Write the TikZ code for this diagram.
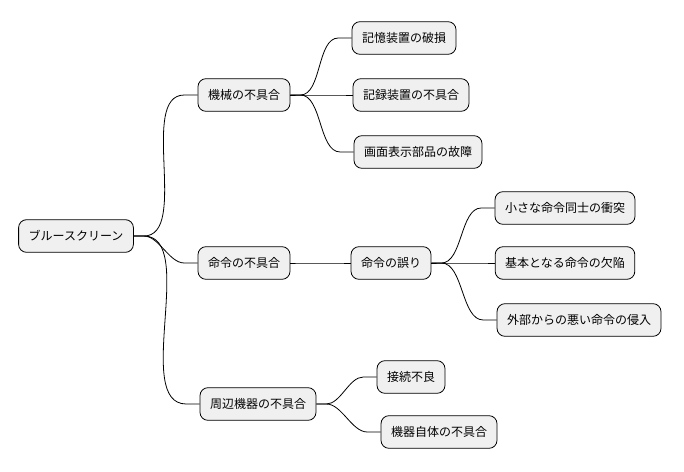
\documentclass[tikz,border=0pt]{standalone}
\usepackage{fontspec}
\setmainfont{Noto Sans CJK JP}
\usetikzlibrary{positioning}

\begin{document}
\begin{tikzpicture}[
    x=0.75pt, y=-0.75pt,
    topic/.style={rectangle, draw, fill=gray!12, rounded corners=6pt, minimum height=24.5pt, inner xsep=7.5pt, font=\fontsize{9pt}{11pt}\selectfont, line width=0.6pt},
    link/.style={line width=0.6pt}
]
\useasboundingbox (0,0) rectangle (684,471);

% root
\node[topic] (root) at (76,236) {ブルースクリーン};

% first level
\node[topic] (machine) at (244,95) {機械の不具合};
\node[topic] (order) at (244,263) {命令の不具合};
\node[topic] (device) at (258,404) {周辺機器の不具合};

% machine branch
\node[topic] (memory) at (404,38) {記憶装置の破損};
\node[topic] (record) at (411,95) {記録装置の不具合};
\node[topic] (screen) at (418,152) {画面表示部品の故障};

% order branch
\node[topic] (mistake) at (391,263) {命令の誤り};
\node[topic] (clash) at (565,208) {小さな命令同士の衝突};
\node[topic] (defect) at (565,263) {基本となる命令の欠陥};
\node[topic] (intrude) at (579,320) {外部からの悪い命令の侵入};

% device branch
\node[topic] (connect) at (411,377) {接続不良};
\node[topic] (itself) at (439,432) {機器自体の不具合};

% links
\foreach \a/\b in {root/machine, root/order, root/device,
    machine/memory, machine/record, machine/screen,
    order/mistake, mistake/clash, mistake/defect, mistake/intrude,
    device/connect, device/itself}
  \draw[link] (\a.east) -- ++(10,0) to[out=0, in=180, looseness=0.8] ([xshift=-10]\b.west) -- (\b.west);

\end{tikzpicture}
\end{document}
